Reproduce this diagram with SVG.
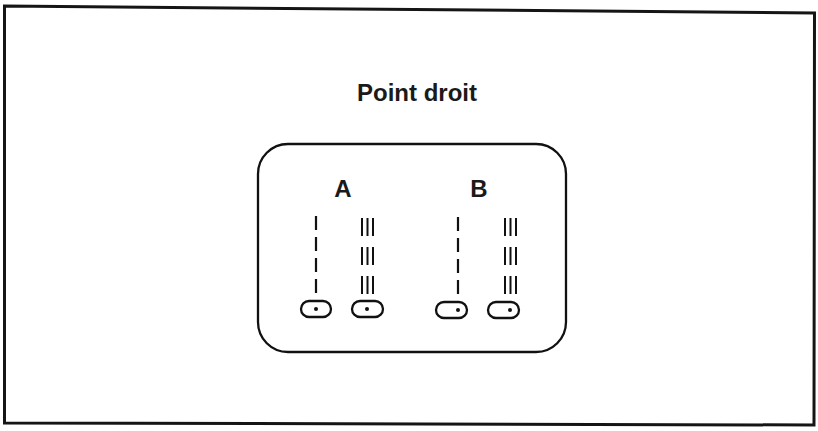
<svg xmlns="http://www.w3.org/2000/svg" width="818" height="431" viewBox="0 0 818 431">
<style>
.ln{stroke:#111;fill:none;stroke-width:2.3}
.lbl{font-family:"Liberation Sans",Arial,sans-serif;font-weight:bold;fill:#1a1a1a;text-anchor:middle}
.dash{stroke:#111;stroke-width:2.2;fill:none;stroke-dasharray:14 7}
.st{stroke:#111;stroke-width:2;fill:none}
.dot{fill:#111}
</style>
<defs>
<g id="triple">
<line x1="0" y1="0" x2="0" y2="18" class="st"/>
<line x1="5.5" y1="0" x2="5.5" y2="18" class="st"/>
<line x1="11" y1="0" x2="11" y2="18" class="st"/>
</g>
</defs>
<rect x="0" y="0" width="818" height="431" fill="#fff"/>
<polygon id="frame" points="4.5,6 814.5,13 814,425 4.5,423" fill="none" stroke="#151515" stroke-width="3"/>
<text id="title" x="417" y="101" class="lbl" font-size="24">Point droit</text>
<g id="panel">
<rect x="258" y="144" width="308" height="208" rx="30" ry="30" class="ln" stroke-width="2.5"/>
</g>
<g id="A">
<text x="343" y="197" class="lbl" font-size="24">A</text>
<line x1="316" y1="216" x2="316" y2="294" class="dash"/>
<use href="#triple" x="362" y="218"/>
<use href="#triple" x="362" y="247"/>
<use href="#triple" x="362" y="276"/>
<rect x="301" y="301" width="30" height="16" rx="8" class="ln"/>
<circle cx="316" cy="309" r="2" class="dot"/>
<rect x="352" y="301" width="31" height="16" rx="8" class="ln"/>
<circle cx="367" cy="309" r="2" class="dot"/>
</g>
<g id="B">
<text x="479" y="197" class="lbl" font-size="24">B</text>
<line x1="458" y1="217" x2="458" y2="295" class="dash"/>
<use href="#triple" x="505" y="218"/>
<use href="#triple" x="505" y="247"/>
<use href="#triple" x="505" y="276"/>
<rect x="436" y="302" width="31" height="16" rx="8" class="ln"/>
<circle cx="458" cy="310" r="2" class="dot"/>
<rect x="488" y="302" width="31" height="16" rx="8" class="ln"/>
<circle cx="510" cy="310" r="2" class="dot"/>
</g>
<g id="connectors"/>
</svg>
